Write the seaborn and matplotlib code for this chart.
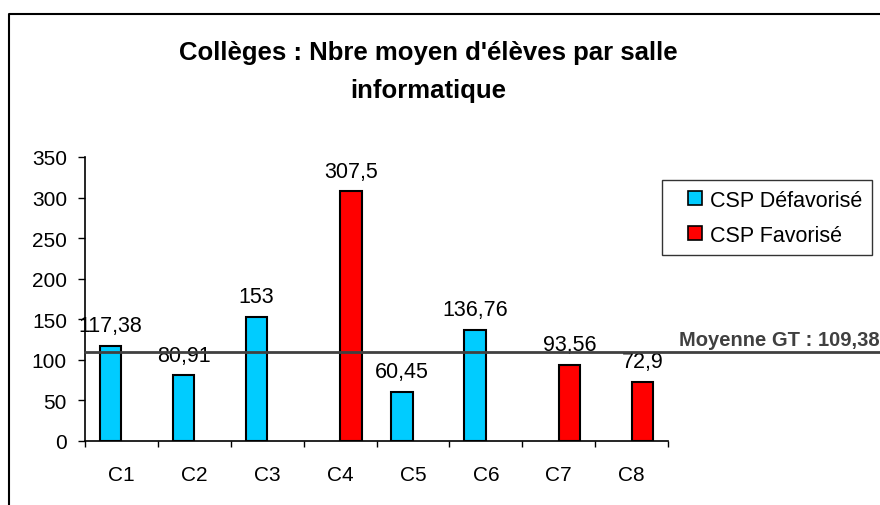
import matplotlib
matplotlib.use("Agg")
import matplotlib.pyplot as plt
from matplotlib.lines import Line2D
from matplotlib.ticker import FixedLocator
import pandas as pd
import seaborn as sns

colleges = ["C1", "C2", "C3", "C4", "C5", "C6", "C7", "C8"]
values = [117.38, 80.91, 153, 307.5, 60.45, 136.76, 93.56, 72.9]
groups = ["CSP Défavorisé", "CSP Défavorisé", "CSP Défavorisé", "CSP Favorisé",
          "CSP Défavorisé", "CSP Défavorisé", "CSP Favorisé", "CSP Favorisé"]
group_order = ["CSP Défavorisé", "CSP Favorisé"]
group_colors = ["#00CCFF", "#FF0000"]
moyenne_gt = 109.38

df = pd.DataFrame({"college": colleges, "value": values, "csp": groups})

sns.set_style("white")
plt.rcParams["font.family"] = ["Liberation Sans", "DejaVu Sans"]
plt.rcParams["text.color"] = "black"
plt.rcParams["xtick.color"] = "black"
plt.rcParams["ytick.color"] = "black"

fig = plt.figure(figsize=(8.8, 5.06), dpi=100)
ax = fig.add_axes([85 / 880, 1 - 442 / 506, (668 - 85) / 880, (442 - 158) / 506])

sns.barplot(
    data=df, x="college", y="value", hue="csp", hue_order=group_order,
    palette=group_colors, order=colleges, width=0.59, dodge=True,
    edgecolor="black", linewidth=1.5, saturation=1, legend=False, ax=ax,
)

# data labels, french decimal comma
for cont in ax.containers:
    labels = [f"{b.get_height():g}".replace(".", ",") for b in cont]
    ax.bar_label(cont, labels=labels, padding=7, fontsize=15.5, color="black")

# mean line running past the plot to the right edge
ax.axhline(moyenne_gt, xmin=0, xmax=1.5, color="#404040", lw=2, clip_on=False, zorder=5)
fig.text(679 / 880, 1 - 346 / 506, f"Moyenne GT : {moyenne_gt:g}".replace(".", ","),
         fontsize=14.5, fontweight="bold", color="#404040", va="baseline")

ax.set_xlim(-0.5, 7.5)
ax.set_ylim(0, 350)
ax.set_yticks(range(0, 351, 50))
ax.set_xlabel("")
ax.set_ylabel("")
ax.tick_params(axis="y", length=5, width=1, pad=8, labelsize=15, left=True, colors="black")
ax.tick_params(axis="x", which="major", length=0, pad=17, labelsize=15, colors="black")
ax.xaxis.set_minor_locator(FixedLocator([i - 0.5 for i in range(9)]))
ax.tick_params(axis="x", which="minor", length=4.5, width=1, bottom=True, color="black")
for side in ["top", "right"]:
    ax.spines[side].set_visible(False)
for side in ["left", "bottom"]:
    ax.spines[side].set_color("black")
    ax.spines[side].set_linewidth(1.2)

# Excel-like legend: small square markers with black edge
handles = [
    Line2D([], [], marker="s", linestyle="none", markersize=9.5,
           markerfacecolor=c, markeredgecolor="black", markeredgewidth=1.2)
    for c in group_colors
]
leg = ax.legend(
    handles, group_order, loc="upper left", bbox_to_anchor=(662 / 880, 1 - 181 / 506),
    bbox_transform=fig.transFigure, fontsize=15.5, frameon=True, fancybox=False,
    edgecolor="black", handlelength=2.2, handletextpad=-0.4,
    labelspacing=0.65, borderpad=0.45, borderaxespad=0,
)
leg.get_frame().set_linewidth(1)
for t in leg.get_texts():
    t.set_color("black")

fig.suptitle("Collèges : Nbre moyen d'élèves par salle\ninformatique",
             x=428 / 880, y=1 - 72 / 506, va="center", fontsize=18.5,
             fontweight="bold", linespacing=1.7, color="black")

# outer chart frame (top and left edges only)
fig.add_artist(Line2D([9 / 880, 9 / 880, 1], [0, 1 - 15 / 506, 1 - 15 / 506],
                      transform=fig.transFigure, color="black", lw=1.5))

fig.savefig("out.png", dpi=100)
